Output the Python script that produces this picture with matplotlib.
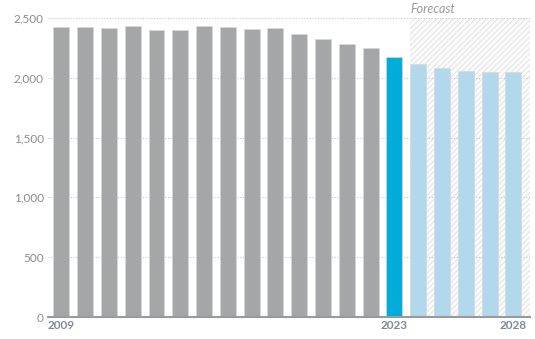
import matplotlib
matplotlib.use("Agg")
import matplotlib.pyplot as plt
from matplotlib.patches import Rectangle

years = list(range(2009, 2029))
values = [2422, 2422, 2414, 2430, 2397, 2397, 2430, 2422, 2405, 2414,
          2364, 2322, 2283, 2247, 2177, 2113, 2080, 2055, 2049, 2049]
last_actual = 2023
xtick_years = [2009, 2023, 2028]
yticks = [0, 500, 1000, 1500, 2000, 2500]

gray = "#a5a6a8"
blue = "#00acd8"
light_blue = "#b1d8eb"
text_col = "#8c8c8c"

plt.rcParams["font.family"] = ["Lato", "DejaVu Sans"]
plt.rcParams["hatch.linewidth"] = 0.6

fig = plt.figure(figsize=(5.35, 3.39), dpi=100)
ax = fig.add_axes([48 / 535, 22 / 339, 482 / 535, 299 / 339])

colors = []
for y in years:
    if y < last_actual:
        colors.append(gray)
    elif y == last_actual:
        colors.append(blue)
    else:
        colors.append(light_blue)

x = list(range(len(years)))

# forecast shaded area
fc_start = years.index(last_actual + 1)
ax.add_patch(Rectangle((fc_start - 0.34, 0), len(years) - fc_start + 0.19, 2500,
                       facecolor="#fbfbfb", edgecolor="#e0e0e0", hatch="//////",
                       linewidth=0, zorder=0))
ax.text(fc_start - 0.34, 2545, "Forecast", ha="left", va="baseline",
        style="italic", color="#9a9a9a", fontsize=9, clip_on=False)

for v in yticks[1:]:
    ax.axhline(v, color="#c8c8c8", linestyle=(0, (1, 1.5)), linewidth=0.8, zorder=1)

ax.bar(x, values, width=0.67, color=colors, edgecolor="#d8d8d8", linewidth=0.5, zorder=2)

ax.set_xlim(-0.56, len(years) - 0.3)
ax.set_ylim(0, 2500)
ax.set_yticks(yticks)
ax.set_yticklabels([f"{v:,}" for v in yticks], color=text_col, fontsize=8.5)
ax.set_xticks([years.index(y) for y in xtick_years])
ax.set_xticklabels([str(y) for y in xtick_years], color="#7f8a95", fontsize=8.5,
                   fontweight="bold")
ax.tick_params(axis="both", length=0, pad=3)
ax.tick_params(axis="x", pad=2)

for s in ["top", "right", "left"]:
    ax.spines[s].set_visible(False)
ax.spines["bottom"].set_color("#9a9a9a")
ax.spines["bottom"].set_linewidth(1.5)
ax.patch.set_visible(False)

fig.savefig("out.png", dpi=100)
